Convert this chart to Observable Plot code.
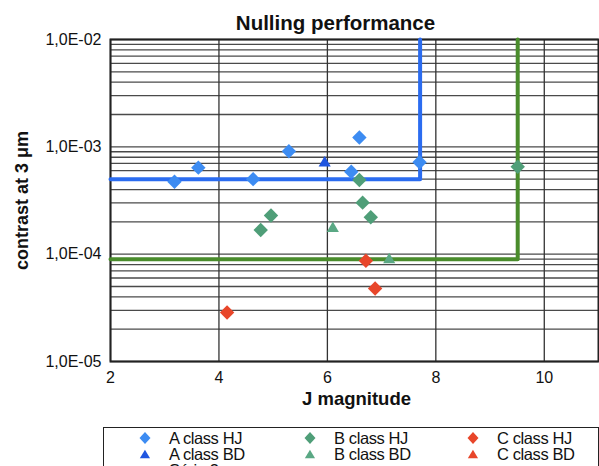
<!DOCTYPE html>
<html><head><meta charset="utf-8">
<script src="https://cdn.jsdelivr.net/npm/d3@7"></script>
<script src="https://cdn.jsdelivr.net/npm/@observablehq/plot@0.6"></script>
<style>
body{margin:0;background:#fff;font-family:"Liberation Sans",Arial,sans-serif;overflow:hidden;}
#chart{position:absolute;left:0;top:0;}
#legend{position:absolute;left:103px;top:427px;width:496px;height:60px;border:1.5px solid #222;box-sizing:border-box;background:#fff;}
.li{position:absolute;font-size:16.5px;line-height:16px;color:#111;letter-spacing:-0.4px;white-space:nowrap;}
.li svg{position:absolute;}
</style></head><body><div id="chart"></div><div id="legend"></div>
<script>
// Series values
const aHJ_x = [3.18, 3.62, 4.63, 5.29, 6.44, 6.59, 7.70];
const aHJ_y = [4.73e-4, 6.4e-4, 5.0e-4, 9.1e-4, 5.86e-4, 1.22e-3, 7.18e-4];
const aBD_x = [5.95];
const aBD_y = [7.06e-4];
const bHJ_x = [4.77, 4.96, 6.59, 6.65, 6.80, 9.51];
const bHJ_y = [1.68e-4, 2.29e-4, 4.91e-4, 3.02e-4, 2.21e-4, 6.53e-4];
const bBD_x = [6.10, 7.14];
const bBD_y = [1.73e-4, 8.85e-5];
const cHJ_x = [4.15, 6.71, 6.88];
const cHJ_y = [2.86e-5, 8.67e-5, 4.79e-5];
// Threshold lines
const aLine_x = [2, 7.71, 7.71];
const aLine_y = [5.0e-4, 5.0e-4, 1e-2];
const bLine_x = [2, 9.51, 9.51];
const bLine_y = [8.95e-5, 8.95e-5, 1e-2];
// Ticks
const xTicks = [2, 4, 6, 8, 10];
const yMajor = [1e-5, 1e-4, 1e-3, 1e-2];
const yMinor = [1e-5,2e-5,3e-5,4e-5,5e-5,6e-5,7e-5,8e-5,9e-5,
                1e-4,2e-4,3e-4,4e-4,5e-4,6e-4,7e-4,8e-4,9e-4,
                1e-3,2e-3,3e-3,4e-3,5e-3,6e-3,7e-3,8e-3,9e-3,1e-2];
const yTickLabels = ["1,0E-05", "1,0E-04", "1,0E-03", "1,0E-02"];

const pts = (xs, ys) => xs.map((x, i) => ({x, y: ys[i]}));
const colA = "#3d8cf2", colABD = "#1f55e0", colB = "#4f9e78", colBBD = "#5aa884", colC = "#e8462a";
const lineA = "#2b6cf0", lineB = "#4a8c2c";

const chart = Plot.plot({
  width: 599, height: 418,
  marginLeft: 110, marginRight: 1, marginTop: 39, marginBottom: 57,
  style: {fontFamily: "Liberation Sans, Arial, sans-serif", color: "#111", background: "#fff"},
  x: {domain: [2, 11]},
  y: {type: "log", domain: [1e-5, 1e-2]},
  marks: [
    Plot.gridY(yMinor, {stroke: "#4a4a4a", strokeOpacity: 1, strokeWidth: 1.3}),
    Plot.gridX(xTicks, {stroke: "#333", strokeOpacity: 1, strokeWidth: 1.3}),
    Plot.frame({stroke: "#222", strokeWidth: 2}),
    Plot.line(pts(aLine_x, aLine_y), {x: "x", y: "y", stroke: lineA, strokeWidth: 4}),
    Plot.line(pts(bLine_x, bLine_y), {x: "x", y: "y", stroke: lineB, strokeWidth: 4}),
    Plot.dot(pts(aHJ_x, aHJ_y), {x: "x", y: "y", symbol: "diamond2", r: 6.5, fill: colA, stroke: "none"}),
    Plot.dot(pts(aBD_x, aBD_y), {x: "x", y: "y", symbol: "triangle", r: 4.5, fill: colABD, stroke: "none"}),
    Plot.dot(pts(bHJ_x, bHJ_y), {x: "x", y: "y", symbol: "diamond2", r: 6.5, fill: colB, stroke: "none"}),
    Plot.dot(pts(bBD_x, bBD_y), {x: "x", y: "y", symbol: "triangle", r: 4.5, fill: colBBD, stroke: "none"}),
    Plot.dot(pts(cHJ_x, cHJ_y), {x: "x", y: "y", symbol: "diamond2", r: 6.5, fill: colC, stroke: "none"}),
    Plot.axisY(yMajor, {tickFormat: (d) => yTickLabels[yMajor.indexOf(d)], tickSize: 0, tickPadding: 9, fontSize: 16, label: null}),
    Plot.axisX(xTicks, {tickSize: 0, tickPadding: 10, fontSize: 16, label: null}),
    Plot.text(["Nulling performance"], {frameAnchor: "top", textAnchor: "middle", dy: -24, dx: -19, fontSize: 20.5, fontWeight: "bold"}),
    Plot.text(["J magnitude"], {frameAnchor: "bottom", textAnchor: "middle", dy: 43, dx: 2, fontSize: 18.5, fontWeight: "bold"}),
    Plot.text(["contrast at 3 μm"], {frameAnchor: "left", textAnchor: "middle", rotate: -90, dx: -88, dy: 0, fontSize: 18, fontWeight: "bold"})
  ]
});
document.getElementById("chart").appendChild(chart);

// Legend
const legendItems = [
  {label: "A class HJ", sym: "diamond", color: colA, col: 0, row: 0},
  {label: "A class BD", sym: "triangle", color: colABD, col: 0, row: 1},
  {label: "Série 3", sym: null, color: colA, col: 0, row: 2},
  {label: "B class HJ", sym: "diamond", color: colB, col: 1, row: 0},
  {label: "B class BD", sym: "triangle", color: colBBD, col: 1, row: 1},
  {label: "C class HJ", sym: "diamond", color: colC, col: 2, row: 0},
  {label: "C class BD", sym: "triangle", color: colC, col: 2, row: 1}
];
const colX = [34, 199, 362];
const leg = document.getElementById("legend");
for (const it of legendItems) {
  const d = document.createElement("div");
  d.className = "li";
  d.style.left = (colX[it.col] + 31) + "px";
  d.style.top = (2 + it.row * 16) + "px";
  d.textContent = it.label;
  leg.appendChild(d);
  if (it.sym) {
    const s = document.createElementNS("http://www.w3.org/2000/svg", "svg");
    s.setAttribute("width", 14); s.setAttribute("height", 14);
    s.style.position = "absolute";
    s.style.left = (colX[it.col]) + "px";
    s.style.top = (3 + it.row * 16) + "px";
    const p = document.createElementNS("http://www.w3.org/2000/svg", "path");
    p.setAttribute("d", it.sym === "diamond" ? "M7,1L12.5,7L7,13L1.5,7Z" : "M7,2L13,12L1,12Z");
    if (it.sym === "triangle") p.setAttribute("transform", "translate(1,1) scale(0.85)");
    p.setAttribute("fill", it.color);
    s.appendChild(p);
    leg.appendChild(s);
  }
}
</script>
</body></html>
